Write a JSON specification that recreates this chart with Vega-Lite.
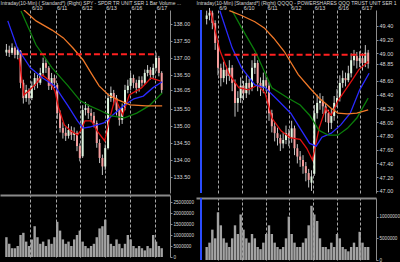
{
 "$schema": "https://vega.github.io/schema/vega-lite/v6.json",
 "background": "black",
 "padding": 0,
 "spacing": 2,
 "config": {
  "view": {"stroke": null},
  "font": "Liberation Sans",
  "axis": {"labelColor": "#d8d8d8", "titleColor": "#d8d8d8", "labelFont": "Liberation Sans", "titleFont": "Liberation Sans", "labelOverlap": false},
  "axisX": {"ticks": false, "domain": false, "grid": true, "gridColor": "#a8a8a8", "gridDash": [3, 2], "gridWidth": 1,
            "labelFontSize": 5.5, "labelAlign": "left", "labelOffset": 1, "labelPadding": 0, "labelFlush": false, "labelOverlap": false,
            "titleFontSize": 5, "titleFontWeight": "normal", "titleAnchor": "start", "titleAlign": "left", "titlePadding": 0},
  "axisY": {"grid": false, "labelFontSize": 5.5, "labelPadding": 1, "tickSize": 2, "labelOverlap": false,
            "domainColor": "#8c8c8c", "tickColor": "#8c8c8c", "titleFontSize": 5}
 },
 "resolve": {"scale": {"x": "independent", "y": "independent", "color": "shared"}},
 "datasets": {
  "L": [
   {"t":0,"o":137.15,"h":137.40,"l":137.05,"c":137.23,"v":9000000},
   {"t":1,"o":137.23,"h":137.35,"l":137.02,"c":137.14,"v":6000000},
   {"t":2,"o":137.14,"h":137.42,"l":137.08,"c":137.29,"v":4000000},
   {"t":3,"o":137.29,"h":137.33,"l":136.98,"c":137.08,"v":4000000},
   {"t":4,"o":137.08,"h":137.30,"l":136.95,"c":137.23,"v":5000000},
   {"t":5,"o":137.20,"h":137.22,"l":136.10,"c":136.26,"v":10000000},
   {"t":6,"o":136.26,"h":136.35,"l":135.65,"c":135.81,"v":11000000},
   {"t":7,"o":135.81,"h":136.20,"l":135.70,"c":136.05,"v":7000000},
   {"t":8,"o":136.05,"h":136.10,"l":135.62,"c":135.81,"v":5000000},
   {"t":9,"o":135.81,"h":136.30,"l":135.75,"c":136.17,"v":8000000},
   {"t":10,"o":136.17,"h":136.55,"l":136.05,"c":136.40,"v":14000000},
   {"t":11,"o":136.40,"h":136.50,"l":136.10,"c":136.26,"v":9000000},
   {"t":12,"o":136.26,"h":136.70,"l":136.20,"c":136.55,"v":6000000},
   {"t":13,"o":136.55,"h":137.00,"l":136.45,"c":136.84,"v":7000000},
   {"t":14,"o":136.84,"h":136.95,"l":136.55,"c":136.70,"v":5000000},
   {"t":15,"o":136.70,"h":136.75,"l":136.05,"c":136.17,"v":8000000},
   {"t":16,"o":136.17,"h":136.55,"l":136.05,"c":136.40,"v":6000000},
   {"t":17,"o":136.40,"h":136.50,"l":136.10,"c":136.26,"v":9000000},
   {"t":18,"o":136.20,"h":136.25,"l":135.20,"c":135.37,"v":16000000},
   {"t":19,"o":135.37,"h":135.45,"l":134.80,"c":134.93,"v":12000000},
   {"t":20,"o":134.93,"h":135.10,"l":134.62,"c":134.79,"v":8000000},
   {"t":21,"o":134.79,"h":134.95,"l":134.55,"c":134.70,"v":6000000},
   {"t":22,"o":134.70,"h":135.05,"l":134.62,"c":134.87,"v":7000000},
   {"t":23,"o":134.87,"h":134.98,"l":134.58,"c":134.73,"v":5000000},
   {"t":24,"o":134.73,"h":134.95,"l":134.55,"c":134.79,"v":8000000},
   {"t":25,"o":134.79,"h":134.85,"l":134.25,"c":134.40,"v":10000000},
   {"t":26,"o":134.40,"h":134.48,"l":133.95,"c":134.05,"v":12000000},
   {"t":27,"o":134.10,"h":135.60,"l":134.05,"c":135.46,"v":7000000},
   {"t":28,"o":135.46,"h":135.70,"l":135.30,"c":135.52,"v":5000000},
   {"t":29,"o":135.52,"h":135.62,"l":135.20,"c":135.37,"v":4000000},
   {"t":30,"o":135.37,"h":135.50,"l":135.10,"c":135.29,"v":5000000},
   {"t":31,"o":135.29,"h":135.40,"l":134.95,"c":135.08,"v":6000000},
   {"t":32,"o":135.08,"h":135.15,"l":134.35,"c":134.49,"v":9000000},
   {"t":33,"o":134.49,"h":134.60,"l":133.90,"c":134.05,"v":13000000},
   {"t":34,"o":134.05,"h":134.15,"l":133.55,"c":133.80,"v":14000000},
   {"t":35,"o":133.80,"h":134.45,"l":133.70,"c":134.34,"v":17000000},
   {"t":36,"o":134.34,"h":135.95,"l":134.30,"c":135.81,"v":10000000},
   {"t":37,"o":135.81,"h":136.15,"l":135.70,"c":135.96,"v":6000000},
   {"t":38,"o":135.96,"h":136.05,"l":135.60,"c":135.81,"v":5000000},
   {"t":39,"o":135.81,"h":135.90,"l":135.30,"c":135.46,"v":8000000},
   {"t":40,"o":135.46,"h":135.55,"l":135.00,"c":135.17,"v":6000000},
   {"t":41,"o":135.17,"h":135.65,"l":135.05,"c":135.52,"v":4000000},
   {"t":42,"o":135.52,"h":136.20,"l":135.45,"c":136.05,"v":6000000},
   {"t":43,"o":136.05,"h":136.35,"l":135.95,"c":136.17,"v":10000000},
   {"t":44,"o":136.17,"h":136.55,"l":136.05,"c":136.40,"v":8000000},
   {"t":45,"o":136.40,"h":136.50,"l":136.10,"c":136.26,"v":5000000},
   {"t":46,"o":136.26,"h":136.35,"l":135.95,"c":136.11,"v":4000000},
   {"t":47,"o":136.11,"h":136.45,"l":136.00,"c":136.34,"v":5000000},
   {"t":48,"o":136.34,"h":136.45,"l":136.15,"c":136.26,"v":4000000},
   {"t":49,"o":136.26,"h":136.65,"l":136.20,"c":136.55,"v":3000000},
   {"t":50,"o":136.55,"h":136.78,"l":136.45,"c":136.64,"v":5000000},
   {"t":51,"o":136.64,"h":136.72,"l":136.35,"c":136.49,"v":4000000},
   {"t":52,"o":136.49,"h":136.82,"l":136.40,"c":136.70,"v":10000000},
   {"t":53,"o":136.70,"h":137.15,"l":136.60,"c":136.99,"v":7000000},
   {"t":54,"o":136.99,"h":137.05,"l":136.45,"c":136.55,"v":5000000},
   {"t":55,"o":136.55,"h":136.60,"l":135.95,"c":136.05,"v":4000000}
  ],
  "LM": [
   {"s":"r","t":4.5,"p":136.99},{"s":"r","t":6.17,"p":135.90},{"s":"r","t":7.83,"p":136.02},{"s":"r","t":10.17,"p":136.20},{"s":"r","t":12.83,"p":136.49},{"s":"r","t":15.17,"p":136.32},{"s":"r","t":17.17,"p":136.02},{"s":"r","t":18.5,"p":135.52},{"s":"r","t":20.5,"p":135.02},{"s":"r","t":22.83,"p":134.84},{"s":"r","t":25.17,"p":134.73},{"s":"r","t":26.17,"p":134.84},{"s":"r","t":27.83,"p":135.14},{"s":"r","t":30.17,"p":135.14},{"s":"r","t":32.17,"p":134.84},{"s":"r","t":34.83,"p":134.55},{"s":"r","t":36.17,"p":135.08},{"s":"r","t":38.5,"p":135.81},{"s":"r","t":41.17,"p":135.32},{"s":"r","t":43.5,"p":135.90},{"s":"r","t":47.83,"p":136.11},{"s":"r","t":51.17,"p":136.40},{"s":"r","t":54.5,"p":136.32},
   {"s":"b","t":0.5,"p":138.08},{"s":"b","t":3.83,"p":137.29},{"s":"b","t":8.5,"p":136.70},{"s":"b","t":12.83,"p":136.40},{"s":"b","t":17.17,"p":136.17},{"s":"b","t":19.5,"p":135.87},{"s":"b","t":21.83,"p":135.58},{"s":"b","t":25.17,"p":135.14},{"s":"b","t":27.17,"p":134.93},{"s":"b","t":29.5,"p":134.96},{"s":"b","t":34.5,"p":135.08},{"s":"b","t":38.5,"p":135.37},{"s":"b","t":41.83,"p":135.61},{"s":"b","t":45.17,"p":135.79},{"s":"b","t":48.5,"p":135.87},{"s":"b","t":51.83,"p":136.11},{"s":"b","t":55.17,"p":136.29},
   {"s":"g","t":5.17,"p":138.37},{"s":"g","t":10.5,"p":137.37},{"s":"g","t":16.17,"p":136.70},{"s":"g","t":21.83,"p":136.17},{"s":"g","t":26.17,"p":135.73},{"s":"g","t":29.5,"p":135.58},{"s":"g","t":32.83,"p":135.46},{"s":"g","t":37.17,"p":135.29},{"s":"g","t":41.83,"p":135.23},{"s":"g","t":46.17,"p":135.37},{"s":"g","t":50.5,"p":135.58},{"s":"g","t":55.17,"p":135.96},
   {"s":"o","t":6.17,"p":138.40},{"s":"o","t":10.5,"p":138.08},{"s":"o","t":16.17,"p":137.81},{"s":"o","t":20.17,"p":137.58},{"s":"o","t":23.5,"p":137.29},{"s":"o","t":27.17,"p":136.93},{"s":"o","t":30.17,"p":136.52},{"s":"o","t":32.83,"p":136.17},{"s":"o","t":36.17,"p":135.90},{"s":"o","t":39.5,"p":135.76},{"s":"o","t":43.83,"p":135.61},{"s":"o","t":49.5,"p":135.58},{"s":"o","t":55.17,"p":135.58}
  ],
  "LL": [{"t0":5.5,"t1":52.8,"p":137.10}],
  "R": [
   {"t":0,"o":49.50,"h":49.62,"l":49.42,"c":49.55,"v":3000000},
   {"t":1,"o":49.55,"h":49.66,"l":49.48,"c":49.59,"v":4000000},
   {"t":2,"o":49.59,"h":49.62,"l":49.35,"c":49.44,"v":7000000},
   {"t":3,"o":49.44,"h":49.48,"l":49.05,"c":49.15,"v":5000000},
   {"t":4,"o":49.15,"h":49.20,"l":48.68,"c":48.79,"v":11000000},
   {"t":5,"o":48.79,"h":48.85,"l":48.52,"c":48.64,"v":8000000},
   {"t":6,"o":48.64,"h":48.88,"l":48.58,"c":48.76,"v":5000000},
   {"t":7,"o":48.76,"h":48.82,"l":48.55,"c":48.67,"v":4000000},
   {"t":8,"o":48.67,"h":48.90,"l":48.60,"c":48.79,"v":3000000},
   {"t":9,"o":48.79,"h":48.83,"l":48.45,"c":48.57,"v":5000000},
   {"t":10,"o":48.57,"h":48.62,"l":48.08,"c":48.28,"v":8000000},
   {"t":11,"o":48.28,"h":48.45,"l":48.15,"c":48.35,"v":6000000},
   {"t":12,"o":48.35,"h":48.65,"l":48.28,"c":48.53,"v":10500000},
   {"t":13,"o":48.53,"h":48.60,"l":48.32,"c":48.42,"v":7000000},
   {"t":14,"o":48.42,"h":48.68,"l":48.35,"c":48.57,"v":5000000},
   {"t":15,"o":48.57,"h":48.63,"l":48.40,"c":48.50,"v":4000000},
   {"t":16,"o":48.50,"h":48.90,"l":48.45,"c":48.79,"v":6000000},
   {"t":17,"o":48.79,"h":49.00,"l":48.70,"c":48.86,"v":5000000},
   {"t":18,"o":48.86,"h":48.90,"l":48.45,"c":48.57,"v":3000000},
   {"t":19,"o":48.57,"h":48.65,"l":48.38,"c":48.50,"v":2500000},
   {"t":20,"o":48.50,"h":48.72,"l":48.42,"c":48.61,"v":4000000},
   {"t":21,"o":48.61,"h":48.68,"l":48.45,"c":48.53,"v":6000000},
   {"t":22,"o":48.53,"h":48.58,"l":48.02,"c":48.13,"v":8000000},
   {"t":23,"o":48.13,"h":48.18,"l":47.85,"c":47.94,"v":6000000},
   {"t":24,"o":47.94,"h":48.00,"l":47.72,"c":47.84,"v":4000000},
   {"t":25,"o":47.84,"h":47.92,"l":47.66,"c":47.77,"v":3000000},
   {"t":26,"o":47.77,"h":47.82,"l":47.58,"c":47.69,"v":2500000},
   {"t":27,"o":47.69,"h":47.85,"l":47.62,"c":47.74,"v":3000000},
   {"t":28,"o":47.74,"h":47.95,"l":47.68,"c":47.84,"v":5000000},
   {"t":29,"o":47.84,"h":47.90,"l":47.65,"c":47.77,"v":10000000},
   {"t":30,"o":47.77,"h":48.02,"l":47.70,"c":47.91,"v":6000000},
   {"t":31,"o":47.91,"h":47.95,"l":47.52,"c":47.62,"v":4000000},
   {"t":32,"o":47.62,"h":47.68,"l":47.40,"c":47.50,"v":3000000},
   {"t":33,"o":47.50,"h":47.58,"l":47.35,"c":47.45,"v":3000000},
   {"t":34,"o":47.45,"h":47.52,"l":47.25,"c":47.36,"v":4000000},
   {"t":35,"o":47.36,"h":47.42,"l":47.14,"c":47.26,"v":5000000},
   {"t":36,"o":47.26,"h":47.32,"l":47.05,"c":47.16,"v":8000000},
   {"t":37,"o":47.12,"h":47.30,"l":47.00,"c":47.21,"v":12500000},
   {"t":38,"o":47.25,"h":48.25,"l":47.22,"c":48.13,"v":10500000},
   {"t":39,"o":48.13,"h":48.40,"l":48.05,"c":48.28,"v":9000000},
   {"t":40,"o":48.28,"h":48.42,"l":48.18,"c":48.31,"v":5000000},
   {"t":41,"o":48.31,"h":48.38,"l":48.12,"c":48.23,"v":3000000},
   {"t":42,"o":48.23,"h":48.28,"l":48.00,"c":48.13,"v":3000000},
   {"t":43,"o":48.13,"h":48.18,"l":47.85,"c":47.99,"v":2500000},
   {"t":44,"o":47.99,"h":48.20,"l":47.90,"c":48.09,"v":4000000},
   {"t":45,"o":48.09,"h":48.38,"l":48.02,"c":48.28,"v":3000000},
   {"t":46,"o":48.28,"h":48.48,"l":48.22,"c":48.35,"v":6000000},
   {"t":47,"o":48.35,"h":48.68,"l":48.30,"c":48.57,"v":5000000},
   {"t":48,"o":48.57,"h":48.75,"l":48.50,"c":48.64,"v":3000000},
   {"t":49,"o":48.64,"h":48.72,"l":48.52,"c":48.61,"v":2500000},
   {"t":50,"o":48.61,"h":48.82,"l":48.58,"c":48.71,"v":2000000},
   {"t":51,"o":48.71,"h":49.00,"l":48.65,"c":48.90,"v":3000000},
   {"t":52,"o":48.90,"h":49.05,"l":48.82,"c":48.96,"v":4000000},
   {"t":53,"o":48.96,"h":49.02,"l":48.78,"c":48.89,"v":3000000},
   {"t":54,"o":48.89,"h":49.03,"l":48.80,"c":48.93,"v":6500000},
   {"t":55,"o":48.93,"h":49.00,"l":48.75,"c":48.86,"v":4000000},
   {"t":56,"o":48.86,"h":49.12,"l":48.80,"c":49.01,"v":3000000},
   {"t":57,"o":49.01,"h":49.05,"l":48.78,"c":48.85,"v":3000000}
  ],
  "RM": [
   {"s":"r","t":1.33,"p":49.62},{"s":"r","t":4.67,"p":49.04},{"s":"r","t":8,"p":48.69},{"s":"r","t":11.33,"p":48.50},{"s":"r","t":14.67,"p":48.47},{"s":"r","t":18,"p":48.54},{"s":"r","t":20.67,"p":48.42},{"s":"r","t":23,"p":48.06},{"s":"r","t":26.33,"p":47.87},{"s":"r","t":29.67,"p":47.77},{"s":"r","t":33,"p":47.75},{"s":"r","t":35.33,"p":47.62},{"s":"r","t":37.33,"p":47.45},{"s":"r","t":39.67,"p":47.91},{"s":"r","t":42,"p":48.20},{"s":"r","t":44,"p":48.10},{"s":"r","t":46.33,"p":48.31},{"s":"r","t":48.67,"p":48.45},{"s":"r","t":51.33,"p":48.61},{"s":"r","t":53.67,"p":48.76},{"s":"r","t":57,"p":48.88},
   {"s":"b","t":4.67,"p":49.62},{"s":"b","t":9,"p":49.08},{"s":"b","t":12.33,"p":48.79},{"s":"b","t":17,"p":48.54},{"s":"b","t":20.67,"p":48.50},{"s":"b","t":25.33,"p":48.31},{"s":"b","t":29.67,"p":48.13},{"s":"b","t":33,"p":47.91},{"s":"b","t":36.33,"p":47.69},{"s":"b","t":38.67,"p":47.65},{"s":"b","t":40.67,"p":47.78},{"s":"b","t":44,"p":47.84},{"s":"b","t":47.33,"p":47.96},{"s":"b","t":50.67,"p":48.13},{"s":"b","t":54,"p":48.47},{"s":"b","t":57.33,"p":48.71},
   {"s":"g","t":9,"p":49.62},{"s":"g","t":12.33,"p":49.37},{"s":"g","t":17,"p":49.04},{"s":"g","t":20.33,"p":48.74},{"s":"g","t":23,"p":48.50},{"s":"g","t":28.67,"p":48.35},{"s":"g","t":33,"p":48.25},{"s":"g","t":36.33,"p":48.10},{"s":"g","t":39.67,"p":47.88},{"s":"g","t":43,"p":47.81},{"s":"g","t":46.33,"p":47.81},{"s":"g","t":49.67,"p":47.91},{"s":"g","t":53,"p":48.06},{"s":"g","t":57,"p":48.35},
   {"s":"o","t":8,"p":49.62},{"s":"o","t":12.33,"p":49.55},{"s":"o","t":17,"p":49.46},{"s":"o","t":20.33,"p":49.37},{"s":"o","t":23.67,"p":49.22},{"s":"o","t":27.33,"p":49.03},{"s":"o","t":32.33,"p":48.69},{"s":"o","t":36.33,"p":48.50},{"s":"o","t":39.67,"p":48.35},{"s":"o","t":44,"p":48.20},{"s":"o","t":46.33,"p":48.13},{"s":"o","t":49.67,"p":48.12},{"s":"o","t":53,"p":48.13},{"s":"o","t":57,"p":48.18}
  ],
  "RL": [{"t0":6.33,"t1":56.33,"p":48.98}],
  "SEP": [{"t":-2}]
 },
 "hconcat": [
  {
   "spacing": 2,
   "resolve": {"scale": {"x": "independent", "y": "independent"}},
   "vconcat": [
    {
     "width": 170, "height": 183,
     "resolve": {"axis": {"x": "independent", "y": "independent"}},
     "layer": [
      {"data": {"name": "L"}, "mark": {"type": "rule", "color": "#c4c4c4", "strokeWidth": 1},
       "encoding": {
        "x": {"field": "t", "type": "quantitative", "scale": {"domain": [-0.5, 56.17], "nice": false, "zero": false},
              "axis": {"orient": "top", "values": [8.5, 17.4, 26.2, 34.8, 43.8, 52.7], "labelOverlap": false,
                       "labelExpr": "datum.value == 8.5 ? '6/10' : datum.value == 17.4 ? '6/11' : datum.value == 26.2 ? '6/12' : datum.value == 34.8 ? '6/13' : datum.value == 43.8 ? '6/16' : '6/17'",
                       "title": "Intraday(10-Min) ( Standard*)  (Right)  SPY - SPDR TR UNIT SER 1  Bar  Volume  ..."}},
        "y": {"field": "l", "type": "quantitative", "scale": {"domain": [133.02, 138.40], "nice": false, "zero": false},
              "axis": {"orient": "right", "values": [133.5, 134, 134.5, 135, 135.5, 136.05, 136.5, 137, 137.5, 138], "format": ".2f", "labelOverlap": false,
                       "title": null, "minExtent": 19, "maxExtent": 19}},
        "y2": {"field": "h"}
       }},
      {"data": {"name": "L"}, "mark": {"type": "bar", "size": 2},
       "encoding": {
        "x": {"field": "t", "type": "quantitative", "axis": null},
        "y": {"field": "o", "type": "quantitative", "axis": null},
        "y2": {"field": "c"},
        "color": {"condition": {"test": "datum.c >= datum.o", "value": "#dff5df"}, "value": "#f59c9c"}
       }},
      {"data": {"name": "LM"}, "mark": {"type": "line", "strokeWidth": 1.3, "clip": true},
       "encoding": {
        "x": {"field": "t", "type": "quantitative", "axis": null},
        "y": {"field": "p", "type": "quantitative", "axis": null},
        "color": {"field": "s", "type": "nominal", "scale": {"domain": ["r", "b", "g", "o"], "range": ["#e01010", "#2a2aff", "#0b7d0b", "#f07828"]}, "legend": null}
       }},
      {"data": {"name": "LL"}, "mark": {"type": "rule", "color": "#ff2020", "strokeWidth": 2, "strokeDash": [6, 3]},
       "encoding": {
        "x": {"field": "t0", "type": "quantitative", "axis": null},
        "x2": {"field": "t1"},
        "y": {"field": "p", "type": "quantitative", "axis": null}
       }}
     ]
    },
    {
     "width": 170, "height": 62,
     "data": {"name": "L"},
     "mark": {"type": "bar", "size": 2.4, "color": "#a2a2a2"},
     "encoding": {
      "x": {"field": "t", "type": "quantitative", "scale": {"domain": [-0.5, 56.17], "nice": false, "zero": false},
            "axis": {"orient": "top", "values": [8.5, 17.4, 26.2, 34.8, 43.8, 52.7], "labels": false, "title": null,
                     "domain": true, "domainColor": "#8a8a8a", "domainWidth": 2}},
      "y": {"field": "v", "type": "quantitative", "scale": {"domain": [0, 28200000], "nice": false},
            "axis": {"orient": "right", "values": [0, 5000000, 10000000, 15000000, 20000000, 25000000], "format": "d", "labelOverlap": false,
                     "title": null, "labelFontSize": 4.6, "minExtent": 19, "maxExtent": 19}}
     }
    }
   ]
  },
  {
   "spacing": 2,
   "resolve": {"scale": {"x": "independent", "y": "independent"}},
   "vconcat": [
    {
     "width": 180, "height": 183,
     "resolve": {"axis": {"x": "independent", "y": "independent"}},
     "layer": [
      {"data": {"name": "R"}, "mark": {"type": "rule", "color": "#c4c4c4", "strokeWidth": 1},
       "encoding": {
        "x": {"field": "t", "type": "quantitative", "scale": {"domain": [-2, 58], "nice": false, "zero": false},
              "axis": {"orient": "top", "values": [3.9, 12.6, 20.9, 29.2, 37.6, 45.9, 54.2], "labelOverlap": false,
                       "labelExpr": "datum.value == 3.9 ? '6/9' : datum.value == 12.6 ? '6/10' : datum.value == 20.9 ? '6/11' : datum.value == 29.2 ? '6/12' : datum.value == 37.6 ? '6/13' : datum.value == 45.9 ? '6/16' : '6/17'",
                       "title": "Intraday(10-Min) [Standard*]  (Right)  QQQQ - POWERSHARES QQQ TRUST UNIT SER 1"}},
        "y": {"field": "l", "type": "quantitative", "scale": {"domain": [46.97, 49.63], "nice": false, "zero": false},
              "axis": {"orient": "right", "values": [47, 47.2, 47.4, 47.6, 47.8, 48, 48.2, 48.4, 48.6, 48.85, 49, 49.2, 49.4], "format": ".2f", "labelOverlap": false,
                       "title": null, "minExtent": 25, "maxExtent": 25}},
        "y2": {"field": "h"}
       }},
      {"data": {"name": "R"}, "mark": {"type": "bar", "size": 2},
       "encoding": {
        "x": {"field": "t", "type": "quantitative", "axis": null},
        "y": {"field": "o", "type": "quantitative", "axis": null},
        "y2": {"field": "c"},
        "color": {"condition": {"test": "datum.c >= datum.o", "value": "#dff5df"}, "value": "#f59c9c"}
       }},
      {"data": {"name": "RM"}, "mark": {"type": "line", "strokeWidth": 1.3, "clip": true},
       "encoding": {
        "x": {"field": "t", "type": "quantitative", "axis": null},
        "y": {"field": "p", "type": "quantitative", "axis": null},
        "color": {"field": "s", "type": "nominal", "scale": {"domain": ["r", "b", "g", "o"], "range": ["#e01010", "#2a2aff", "#0b7d0b", "#f07828"]}, "legend": null}
       }},
      {"data": {"name": "RL"}, "mark": {"type": "rule", "color": "#ff2020", "strokeWidth": 2, "strokeDash": [6, 3]},
       "encoding": {
        "x": {"field": "t0", "type": "quantitative", "axis": null},
        "x2": {"field": "t1"},
        "y": {"field": "p", "type": "quantitative", "axis": null}
       }},
      {"data": {"name": "SEP"}, "mark": {"type": "rule", "color": "#2a4cff", "strokeWidth": 2},
       "encoding": {"x": {"field": "t", "type": "quantitative", "axis": null}}}
     ]
    },
    {
     "width": 180, "height": 62,
     "resolve": {"axis": {"x": "independent", "y": "independent"}},
     "layer": [
      {"data": {"name": "R"},
       "mark": {"type": "bar", "size": 2.4, "color": "#a2a2a2"},
       "encoding": {
        "x": {"field": "t", "type": "quantitative", "scale": {"domain": [-2, 58], "nice": false, "zero": false},
              "axis": {"orient": "top", "values": [3.9, 12.6, 20.9, 29.2, 37.6, 45.9, 54.2], "labels": false, "title": null,
                       "domain": true, "domainColor": "#8a8a8a", "domainWidth": 2}},
        "y": {"field": "v", "type": "quantitative", "scale": {"domain": [0, 14300000], "nice": false},
              "axis": {"orient": "right", "values": [0, 5000000, 10000000], "format": "d", "labelOverlap": false,
                       "title": null, "labelFontSize": 4.6, "minExtent": 25, "maxExtent": 25}}
       }},
      {"data": {"name": "SEP"}, "mark": {"type": "rule", "color": "#2a4cff", "strokeWidth": 2},
       "encoding": {"x": {"field": "t", "type": "quantitative", "axis": null}}}
     ]
    }
   ]
  }
 ]
}
